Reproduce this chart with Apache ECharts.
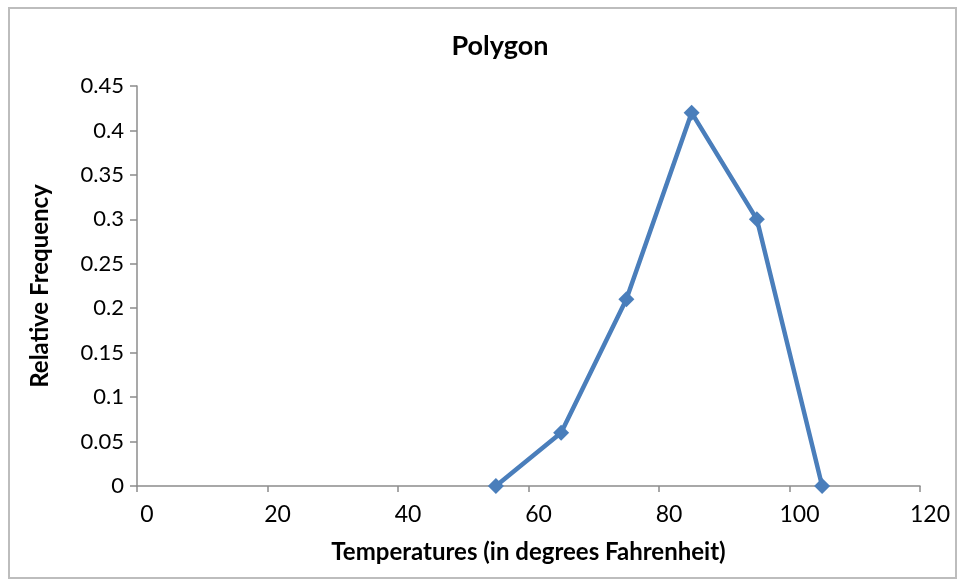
<!DOCTYPE html>
<html>
<head>
<meta charset="utf-8">
<script src="https://cdn.jsdelivr.net/npm/echarts@6/dist/echarts.min.js"></script>
<style>
  html, body { margin: 0; padding: 0; background: #ffffff; }
  #chart { width: 961px; height: 582px; }
</style>
</head>
<body>
<div id="chart"></div>
<script>
// Temperature classes (midpoints, °F) and their relative frequencies
var temperatures = [55, 65, 75, 85, 95, 105];
var relativeFrequency = [0, 0.06, 0.21, 0.42, 0.30, 0];

var xTicks = { min: 0, max: 120, interval: 20 };
var yTicks = { min: 0, max: 0.45, interval: 0.05 };

var chartTitle = 'Polygon';
var xAxisTitle = 'Temperatures (in degrees Fahrenheit)';
var yAxisTitle = 'Relative Frequency';

var points = temperatures.map(function (t, i) { return [t, relativeFrequency[i]]; });

var FONT = 'Lato, "Open Sans", sans-serif';
var chart = echarts.init(document.getElementById('chart'), null, { renderer: 'canvas' });

chart.setOption({
  backgroundColor: '#ffffff',
  animation: false,
  title: {
    text: chartTitle,
    left: 495,
    textAlign: 'center',
    top: 28,
    textStyle: { fontFamily: FONT, fontSize: 27, fontWeight: 'bold', color: '#000000' }
  },
  graphic: [{
    type: 'rect',
    shape: { x: 9, y: 8, width: 947, height: 570 },
    style: { fill: 'none', stroke: '#bdbdbd', lineWidth: 2 },
    silent: true,
    z: -1
  }],
  grid: { left: 137, right: 41, top: 86, bottom: 96, containLabel: false },
  xAxis: {
    type: 'value',
    min: xTicks.min,
    max: xTicks.max,
    interval: xTicks.interval,
    name: xAxisTitle,
    nameLocation: 'middle',
    nameGap: 54,
    nameTextStyle: { fontFamily: FONT, fontSize: 24, fontWeight: 'bold', color: '#000000' },
    axisLine: { show: true, lineStyle: { color: '#8c8c8c', width: 1.5 } },
    axisTick: { show: true, length: 6, lineStyle: { color: '#8c8c8c', width: 1.5 } },
    axisLabel: { fontFamily: FONT, fontSize: 23, color: '#000000', margin: 17, padding: [0, 0, 0, 20] },
    splitLine: { show: false }
  },
  yAxis: {
    type: 'value',
    min: yTicks.min,
    max: yTicks.max,
    interval: yTicks.interval,
    name: yAxisTitle,
    nameLocation: 'middle',
    nameGap: 85,
    nameRotate: 90,
    nameTextStyle: { fontFamily: FONT, fontSize: 24, fontWeight: 'bold', color: '#000000' },
    axisLine: { show: true, lineStyle: { color: '#8c8c8c', width: 1.5 } },
    axisTick: { show: true, length: 7, lineStyle: { color: '#8c8c8c', width: 1.5 } },
    axisLabel: {
      fontFamily: FONT, fontSize: 22, color: '#000000', margin: 13,
      formatter: function (v) { return String(+v.toFixed(2)); }
    },
    splitLine: { show: false }
  },
  series: [{
    type: 'line',
    data: points,
    symbol: 'diamond',
    symbolSize: 16,
    lineStyle: { color: '#4a7ebb', width: 4.5 },
    itemStyle: { color: '#4a7ebb' },
    showAllSymbol: true
  }]
});
</script>
</body>
</html>
